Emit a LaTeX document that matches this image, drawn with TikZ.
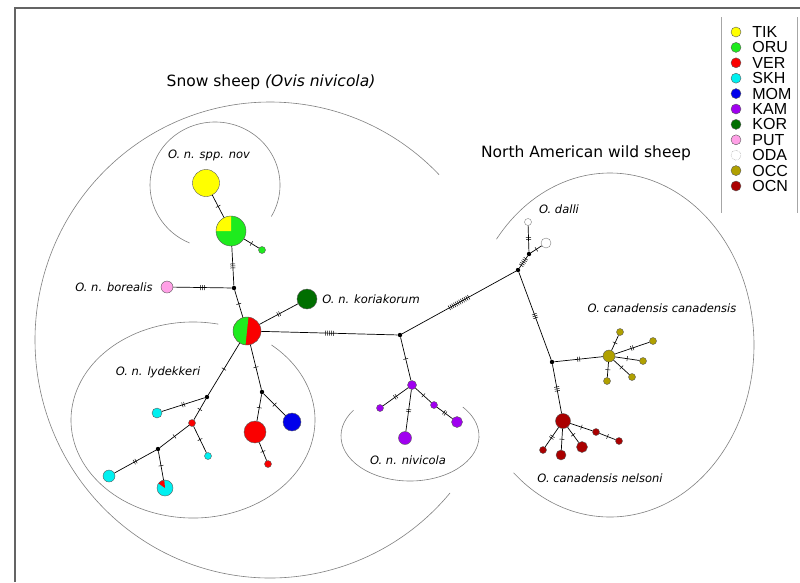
\documentclass[tikz,border=0pt]{standalone}
\usepackage{fontspec}
\setmainfont{DejaVu Sans}
\newfontfamily\keyfont{Liberation Sans}
\usepackage{tikz}
\usetikzlibrary{positioning}
\usepackage{xcolor}
\definecolor{hptik}{RGB}{255,255,0}
\definecolor{hporu}{RGB}{30,235,30}
\definecolor{hpver}{RGB}{250,0,0}
\definecolor{hpskh}{RGB}{0,240,240}
\definecolor{hpmom}{RGB}{0,0,235}
\definecolor{hpkam}{RGB}{160,0,240}
\definecolor{hpkor}{RGB}{0,110,0}
\definecolor{hpput}{RGB}{255,160,230}
\definecolor{hpocc}{RGB}{176,160,0}
\definecolor{hpocn}{RGB}{170,0,0}
\definecolor{hpline}{RGB}{90,90,90}
\definecolor{hpgrey}{RGB}{128,128,128}
\definecolor{hpframe}{RGB}{100,100,100}
\newcommand{\hatch}[1]{%
    \foreach \k in {1,...,#1}{%
        \ifnum\k>1 \hspace{1.5pt}\fi\rule[-2.5pt]{0.5pt}{5pt}}}
\tikzset{
    hap/.style={
        circle,inner sep=0pt,draw=hpline,line width=0.4pt,fill=#1
    },
    TIK/.style={hap=hptik},
    ORU/.style={hap=hporu},
    VER/.style={hap=hpver},
    SKH/.style={hap=hpskh},
    MOM/.style={hap=hpmom},
    KAM/.style={hap=hpkam},
    KOR/.style={hap=hpkor},
    PUT/.style={hap=hpput},
    ODA/.style={hap=white,draw=hpgrey},
    OCC/.style={hap=hpocc},
    OCN/.style={hap=hpocn},
    wedge/.style n args={3}{
        path picture={
            \fill[#1] (path picture bounding box.center) -- ++(#2:20pt)
            arc[start angle=#2,end angle=#3,radius=20pt] -- cycle;
        }
    },
    med/.style={circle,fill=black,inner sep=0pt,minimum size=4.4pt},
    link/.style={draw=black,line width=0.7pt},
    mut/.style={sloped,inner sep=0pt},
    group/.style={draw=hpgrey,line width=0.6pt},
    taxon/.style={inner sep=0pt,font=\itshape\fontsize{11.5}{13}\selectfont},
    title/.style={inner sep=0pt,font=\fontsize{15.5}{18}\selectfont},
    keylabel/.style={inner sep=0pt,font=\keyfont\fontsize{16}{16}\selectfont},
    keyrule/.style={draw=hpgrey!70,line width=0.6pt}
}
\begin{document}
\begin{tikzpicture}[x=1pt,y=-1pt]

\path[use as bounding box,fill=white] (0,0) rectangle (800,582);
\draw[hpframe,line width=1.2pt] (15,582) -- (15,8) -- (800,8);

\draw[group] (270,340) ++(44:235pt and 238pt)
    arc[start angle=44,end angle=320,x radius=235pt,y radius=238pt];
\draw[group] (215,185) ++(-30:65pt and 63pt)
    arc[start angle=-30,end angle=247,x radius=65pt,y radius=63pt];
\draw[group] (193,420) ++(78:122pt and 98pt)
    arc[start angle=78,end angle=410,x radius=122pt,y radius=98pt];
\draw[group] (410,436) ++(145:69pt and 45pt)
    arc[start angle=145,end angle=400,x radius=69pt,y radius=45pt];
\draw[group] (610,345) ++(228:144pt and 172pt)
    arc[start angle=228,end angle=502,x radius=144pt,y radius=172pt];

\node[title] (snowtitle) at (271,82) {Snow sheep \textit{(Ovis nivicola)}};
\node[title] (natitle) at (586,153) {North American wild sheep};

\node[TIK,minimum size=27pt] (tik1) at (206,183) {};
\node[ORU,minimum size=30pt,wedge={hptik}{90}{180}] (oru1) at (231,231) {};
\node[ORU,minimum size=7pt] (oru2) at (262,250) {};
\node[med] (j1) at (234,288) {};
\node[PUT,minimum size=12pt] (put1) at (167,287) {};
\node[KOR,minimum size=20pt] (kor1) at (307,299) {};
\node[VER,minimum size=28pt,wedge={hporu}{84}{264}] (hub) at (247,331) {};
\node[med] (j2) at (207,397) {};
\node[SKH,minimum size=10pt] (skh1) at (157,413) {};
\node[VER,minimum size=7pt] (ver1) at (192,423) {};
\node[SKH,minimum size=7pt] (skh2) at (208,456) {};
\node[med] (j3) at (158,449) {};
\node[SKH,minimum size=12pt] (skh3) at (109,476) {};
\node[SKH,minimum size=16pt,wedge={hpver}{95}{145}] (skh4) at (165,488) {};
\node[med] (j4) at (262,392) {};
\node[VER,minimum size=22pt] (ver2) at (255,432) {};
\node[VER,minimum size=7pt] (ver3) at (268,464) {};
\node[MOM,minimum size=18pt] (mom1) at (292,422) {};
\node[med] (j5) at (400,335) {};
\node[KAM,minimum size=9pt] (kam1) at (412,385) {};
\node[KAM,minimum size=7pt] (kam2) at (380,408) {};
\node[KAM,minimum size=13pt] (kam3) at (405,438) {};
\node[KAM,minimum size=7pt] (kam4) at (434,405) {};
\node[KAM,minimum size=11pt] (kam5) at (457,422) {};

\node[med] (j6) at (518,270) {};
\node[med] (j7) at (529,254) {};
\node[ODA,minimum size=7pt] (oda1) at (528,222) {};
\node[ODA,minimum size=10pt] (oda2) at (546,243) {};
\node[med] (j8) at (552,362) {};
\node[OCC,minimum size=12pt] (occ0) at (609,356) {};
\node[OCC,minimum size=7pt] (occ1) at (620,332) {};
\node[OCC,minimum size=7pt] (occ2) at (653,341) {};
\node[OCC,minimum size=7pt] (occ3) at (643,361) {};
\node[OCC,minimum size=7pt] (occ4) at (632,377) {};
\node[OCC,minimum size=7pt] (occ5) at (607,381) {};
\node[OCN,minimum size=15pt] (ocn0) at (563,421) {};
\node[OCN,minimum size=7pt] (ocn1) at (543,450) {};
\node[OCN,minimum size=10pt] (ocn2) at (561,455) {};
\node[OCN,minimum size=11pt] (ocn3) at (582,447) {};
\node[OCN,minimum size=7pt] (ocn4) at (596,432) {};
\node[OCN,minimum size=7pt] (ocn5) at (619,441) {};

\draw[link] (tik1) -- node[mut]{\hatch{1}} (oru1);
\draw[link] (oru1) -- node[mut]{\hatch{1}} (oru2);
\draw[link] (oru1) -- node[mut]{\hatch{3}} (j1);
\draw[link] (put1) -- node[mut]{\hatch{3}} (j1);
\draw[link] (j1) -- node[mut]{\hatch{1}} (hub);
\draw[link] (hub) -- node[mut]{\hatch{2}} (kor1);
\draw[link] (hub) -- node[mut]{\hatch{5}} (j5);
\draw[link] (hub) -- node[mut]{\hatch{1}} (j2);
\draw[link] (j2) -- node[mut]{\hatch{2}} (skh1);
\draw[link] (j2) -- node[mut]{\hatch{1}} (ver1);
\draw[link] (ver1) -- node[mut]{\hatch{1}} (skh2);
\draw[link] (ver1) -- node[mut]{\hatch{1}} (j3);
\draw[link] (j3) -- node[mut]{\hatch{2}} (skh3);
\draw[link] (j3) -- node[mut]{\hatch{1}} (skh4);
\draw[link] (hub) -- node[mut]{\hatch{1}} (j4);
\draw[link] (j4) -- node[mut]{\hatch{1}} (ver2);
\draw[link] (ver2) -- node[mut]{\hatch{1}} (ver3);
\draw[link] (j4) -- node[mut]{\hatch{1}} (mom1);
\draw[link] (j5) -- node[mut]{\hatch{1}} (kam1);
\draw[link] (kam1) -- node[mut]{\hatch{2}} (kam2);
\draw[link] (kam1) -- node[mut]{\hatch{2}} (kam3);
\draw[link] (kam1) -- node[mut]{\hatch{1}} (kam4);
\draw[link] (kam4) -- node[mut]{\hatch{2}} (kam5);
\draw[link] (j5) -- node[mut]{\hatch{12}} (j6);
\draw[link] (j6) -- node[mut]{\hatch{5}} (j7);
\draw[link] (j7) -- node[mut]{\hatch{2}} (oda1);
\draw[link] (j7) -- node[mut]{\hatch{1}} (oda2);
\draw[link] (j6) -- node[mut]{\hatch{3}} (j8);
\draw[link] (j8) -- node[mut]{\hatch{2}} (occ0);
\draw[link] (occ0) -- node[mut]{\hatch{1}} (occ1);
\draw[link] (occ0) -- node[mut]{\hatch{2}} (occ2);
\draw[link] (occ0) -- node[mut]{\hatch{1}} (occ3);
\draw[link] (occ0) -- node[mut]{\hatch{1}} (occ4);
\draw[link] (occ0) -- node[mut]{\hatch{1}} (occ5);
\draw[link] (j8) -- node[mut]{\hatch{3}} (ocn0);
\draw[link] (ocn0) -- node[mut]{\hatch{2}} (ocn1);
\draw[link] (ocn0) -- node[mut]{\hatch{1}} (ocn2);
\draw[link] (ocn0) -- node[mut]{\hatch{1}} (ocn3);
\draw[link] (ocn0) -- node[mut]{\hatch{1}} (ocn4);
\draw[link] (ocn4) -- node[mut]{\hatch{1}} (ocn5);

\node[taxon] (lspp) at (209,155) {O. n. spp. nov};
\node[taxon,left=8pt of put1] (lbor) {O. n. borealis};
\node[taxon,right=5pt of kor1] (lkor) {O. n. koriakorum};
\node[taxon] (llyd) at (158,372) {O. n. lydekkeri};
\node[taxon] (lniv) at (408,460) {O. n. nivicola};
\node[taxon] (ldal) at (559,209) {O. dalli};
\node[taxon] (lcan) at (662,308) {O. canadensis canadensis};
\node[taxon] (lnel) at (600,478) {O. canadensis nelsoni};

\draw[keyrule] (721,17) -- (721,213);
\draw[keyrule] (797,17) -- (797,213);
\node[TIK,minimum size=10pt] (keyTIK) at (736,32) {};
\node[ORU,minimum size=10pt,below=5pt of keyTIK] (keyORU) {};
\node[VER,minimum size=10pt,below=5pt of keyORU] (keyVER) {};
\node[SKH,minimum size=10pt,below=5pt of keyVER] (keySKH) {};
\node[MOM,minimum size=10pt,below=5pt of keySKH] (keyMOM) {};
\node[KAM,minimum size=10pt,below=5pt of keyMOM] (keyKAM) {};
\node[KOR,minimum size=10pt,below=5pt of keyKAM] (keyKOR) {};
\node[PUT,minimum size=10pt,below=5pt of keyKOR] (keyPUT) {};
\node[ODA,minimum size=10pt,densely dotted,below=5pt of keyPUT] (keyODA) {};
\node[OCC,minimum size=10pt,below=5pt of keyODA] (keyOCC) {};
\node[OCN,minimum size=10pt,below=5pt of keyOCC] (keyOCN) {};
\node[keylabel,right=11pt of keyTIK] (txtTIK) {TIK};
\node[keylabel,right=11pt of keyORU] (txtORU) {ORU};
\node[keylabel,right=11pt of keyVER] (txtVER) {VER};
\node[keylabel,right=11pt of keySKH] (txtSKH) {SKH};
\node[keylabel,right=11pt of keyMOM] (txtMOM) {MOM};
\node[keylabel,right=11pt of keyKAM] (txtKAM) {KAM};
\node[keylabel,right=11pt of keyKOR] (txtKOR) {KOR};
\node[keylabel,right=11pt of keyPUT] (txtPUT) {PUT};
\node[keylabel,right=11pt of keyODA] (txtODA) {ODA};
\node[keylabel,right=11pt of keyOCC] (txtOCC) {OCC};
\node[keylabel,right=11pt of keyOCN] (txtOCN) {OCN};

\end{tikzpicture}
\end{document}
